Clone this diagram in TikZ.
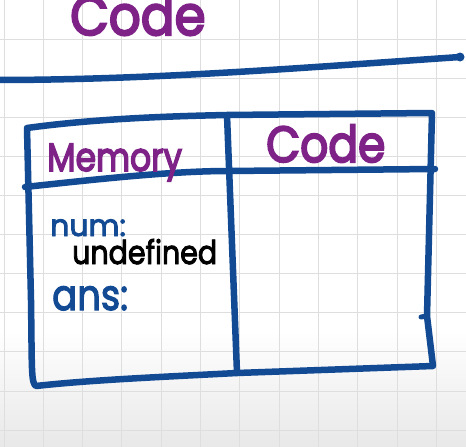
\documentclass[tikz,border=0pt]{standalone}
\usepackage{fontspec}
\setmainfont{Poppins}
\newfontfamily\inkfont[FakeBold=4]{Poppins}
\newfontfamily\penfont[FakeBold=3]{Poppins}
\usepackage{graphicx}
\usepackage{tikz}
\usetikzlibrary{positioning,calc}
\definecolor{inkblue}{RGB}{18,74,148}
\definecolor{inkpurple}{RGB}{126,34,136}
\definecolor{gridgrey}{RGB}{222,222,222}
\newcommand{\tallink}[2]{\scalebox{1}[#1]{#2}}

\begin{document}
\begin{tikzpicture}[x=1pt,y=-1pt,
    pen/.style={draw=inkblue, line width=6.5pt, line cap=round, line join=round},
    gridline/.style={draw=gridgrey, line width=1pt},
    title/.style={text=inkpurple, inner sep=0pt, anchor=base west},
    entry/.style={text=inkblue, inner sep=0pt, anchor=base west},
    value/.style={text=black, inner sep=0pt, anchor=base west}
]
\useasboundingbox (0,0) rectangle (466,447);
% paper
\fill[white] (0,0) rectangle (466,447);
\shade[top color=white, bottom color=black!9] (0,330) rectangle (466,447);
\foreach \gx in {0,...,11} \draw[gridline] ({4+39.3*\gx},0) -- ({4+39.3*\gx},447);
\foreach \gy in {1,...,11} \draw[gridline] (0,{39.1*\gy}) -- (466,{39.1*\gy});

% heading
\node[title, font=\fontsize{50}{50}\inkfont] (heading) at (70,35) {\tallink{1.1}{Code}};
\coordinate (ruleL) at (-5,80);
\coordinate (ruleR) at (460,57);
\draw[pen] (ruleL) .. controls (150,80) and (300,68) .. (ruleR);
\fill[inkblue] (ruleR) circle (4.5pt);

% table corners
\coordinate (tl) at (27,128);
\coordinate (tm) at (227,115);
\coordinate (tr) at (432,113);
\coordinate (hl) at (25,187);
\coordinate (hm) at (228,171);
\coordinate (hr) at (435,169);
\coordinate (bl) at (36,386);
\coordinate (bm) at (237,373);
\coordinate (br) at (433,366);
\coordinate (nub) at (427,316);

\draw[pen] (tl) .. controls (100,118) and (180,116) .. (tm) -- (tr)
   -- (nub) -- (br) -- (bm) .. controls (160,377) and (90,380) .. (bl)
   .. controls (31,383) and (32,370) .. (31,300) -- (tl);
\draw[pen] (hl) .. controls (90,180) and (170,171) .. (hm) -- (hr);
\draw[pen] (tm) -- (bm);
\draw[pen, line width=5pt] (nub) -- ++(-6,1);

% column titles
\node[title, font=\fontsize{33}{33}\inkfont] (memory) at (47,171) {\tallink{1.2}{Memory}};
\node[title, font=\fontsize{44}{44}\inkfont] (code) at (266,162) {\tallink{1.15}{Code}};

% memory entries
\node[entry, font=\fontsize{30}{30}\penfont] (num) at (50,236) {num:};
\node[value, font=\fontsize{28.5}{28.5}\penfont] (undef) at (72,264) {\tallink{1.15}{undefined}};
\node[entry, font=\fontsize{37}{37}\penfont] (ans) at (52,310) {\tallink{1.15}{ans:}};
\end{tikzpicture}
\end{document}
